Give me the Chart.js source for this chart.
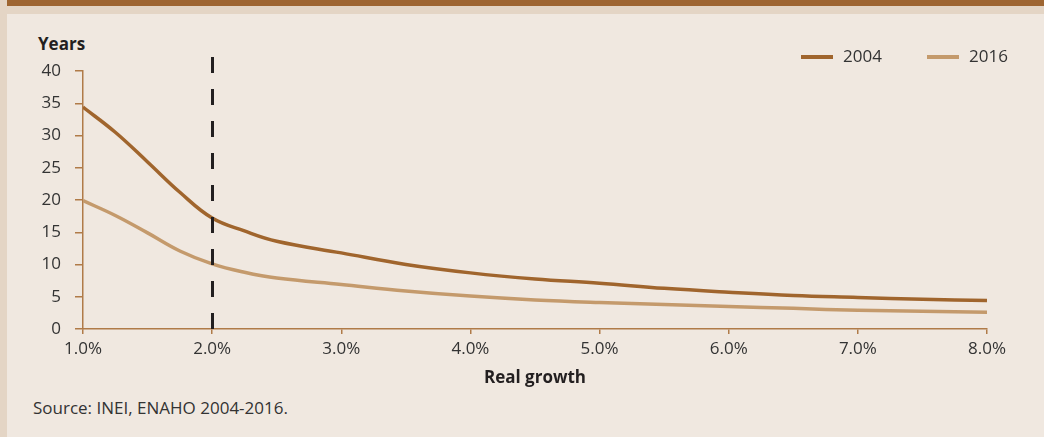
<!DOCTYPE html>
<html>
<head>
<meta charset="utf-8">
<script src="https://cdn.jsdelivr.net/npm/chart.js@4/dist/chart.umd.min.js"></script>
<style>
  html, body { margin: 0; padding: 0; }
  body { width: 1044px; height: 437px; position: relative; overflow: hidden; background: #e4d5c5; font-family: "Open Sans", sans-serif; }
  #band { position: absolute; left: 7px; top: 0; width: 1037px; height: 6px; background: #9e6531; }
  #panel { position: absolute; left: 7px; top: 14px; width: 1037px; height: 423px; background: #f0e8e0; }
  #years { position: absolute; left: 38px; top: 32px; font-weight: bold; font-size: 17px; color: #231f20; line-height: 24px; }
  #source { position: absolute; left: 33px; top: 396px; font-size: 17px; color: #333333; line-height: 24px; }
  canvas { position: absolute; left: 0; top: 0; }
</style>
</head>
<body>
<div id="band"></div>
<div id="panel"></div>
<div id="years">Years</div>
<div id="source">Source: INEI, ENAHO 2004-2016.</div>
<canvas id="c" width="1044" height="437"></canvas>
<script>
const growth = [1.0, 1.25, 1.5, 1.75, 2.0, 2.25, 2.5, 3.0, 3.5, 4.0, 4.5, 5.0, 5.5, 6.0, 6.5, 7.0, 7.5, 8.0];
const years2004 = [34.4, 30.5, 25.9, 21.2, 17.2, 15.2, 13.6, 11.8, 10.0, 8.7, 7.75, 7.1, 6.3, 5.7, 5.2, 4.9, 4.6, 4.4];
const years2016 = [19.9, 17.6, 14.9, 12.1, 10.1, 8.8, 7.9, 6.9, 5.9, 5.1, 4.5, 4.1, 3.8, 3.5, 3.2, 2.9, 2.75, 2.6];
const seriesLabels = ["2004", "2016"];
const xTicks = [1, 2, 3, 4, 5, 6, 7, 8];
const yTicks = [0, 5, 10, 15, 20, 25, 30, 35, 40];
const markerGrowth = 2.0;

const C2004 = "#a0652d";
const C2016 = "#c49a6c";
const AXIS = "#b07b48";
const TEXT = "#333333";
const FONT = "'Open Sans', sans-serif";

const dashedLine = {
  id: "dashedLine",
  afterDatasetsDraw(chart) {
    const {ctx, scales: {x, y}} = chart;
    const px = Math.round(x.getPixelForValue(markerGrowth)) + 0.5;
    const bottom = y.getPixelForValue(0);
    const top = y.getPixelForValue(40) - 14;
    ctx.save();
    ctx.strokeStyle = "#231f20";
    ctx.lineWidth = 3;
    ctx.setLineDash([16, 16]);
    ctx.beginPath();
    ctx.moveTo(px, bottom);
    ctx.lineTo(px, top);
    ctx.stroke();
    ctx.restore();
  }
};

const customLegend = {
  id: "customLegend",
  afterDraw(chart) {
    const {ctx} = chart;
    const starts = [801, 927];
    ctx.save();
    ctx.font = "17px " + FONT;
    ctx.textBaseline = "middle";
    ctx.textAlign = "left";
    chart.data.datasets.forEach((ds, i) => {
      const x0 = starts[i];
      ctx.strokeStyle = ds.borderColor;
      ctx.lineWidth = 4;
      ctx.beginPath();
      ctx.moveTo(x0, 57);
      ctx.lineTo(x0 + 32, 57);
      ctx.stroke();
      ctx.fillStyle = TEXT;
      ctx.fillText(ds.label, x0 + 42, 57);
    });
    ctx.restore();
  }
};

new Chart(document.getElementById("c"), {
  type: "line",
  data: {
    datasets: [
      { label: seriesLabels[0], data: growth.map((g, i) => ({x: g, y: years2004[i]})), borderColor: C2004, backgroundColor: C2004, borderWidth: 3.5, pointRadius: 0, tension: 0.4, fill: false },
      { label: seriesLabels[1], data: growth.map((g, i) => ({x: g, y: years2016[i]})), borderColor: C2016, backgroundColor: C2016, borderWidth: 3.5, pointRadius: 0, tension: 0.4, fill: false }
    ]
  },
  options: {
    responsive: false,
    animation: false,
    layout: { padding: { top: 71, right: 57, bottom: 0, left: 0 } },
    plugins: { legend: { display: false }, tooltip: { enabled: false } },
    scales: {
      x: {
        type: "linear",
        min: 1, max: 8,
        afterBuildTicks(scale) { scale.ticks = xTicks.map(v => ({value: v})); },
        afterFit(scale) { scale.height = 108; },
        grid: { drawOnChartArea: false, drawTicks: true, tickLength: 5, color: AXIS, lineWidth: 1.5 },
        border: { display: true, color: AXIS, width: 1.5 },
        ticks: { color: TEXT, font: { family: FONT, size: 17 }, padding: 5, maxRotation: 0, callback: v => v.toFixed(1) + "%" },
        title: { display: true, text: "Real growth", color: "#231f20", font: { family: FONT, size: 17, weight: "bold" }, padding: { top: 0, bottom: 49 } }
      },
      y: {
        type: "linear",
        min: 0, max: 40,
        afterBuildTicks(scale) { scale.ticks = yTicks.map(v => ({value: v})); },
        afterFit(scale) { scale.width = 83; },
        grid: { drawOnChartArea: false, drawTicks: true, tickLength: 8, color: AXIS, lineWidth: 1.5 },
        border: { display: true, color: AXIS, width: 1.5 },
        ticks: { color: TEXT, font: { family: FONT, size: 17 }, padding: 14 }
      }
    }
  },
  plugins: [dashedLine, customLegend]
});
</script>
</body>
</html>
